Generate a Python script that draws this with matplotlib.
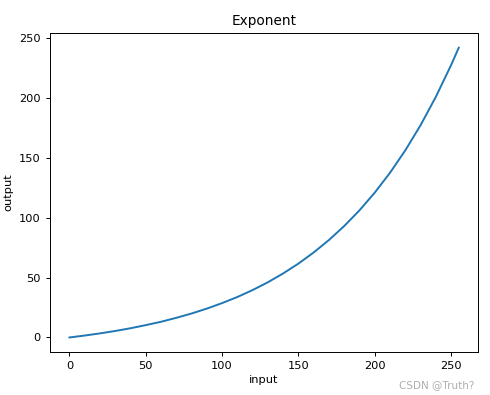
import matplotlib
matplotlib.use("Agg")
import matplotlib.pyplot as plt

# values
x_in = [0, 10, 20, 30, 40, 50, 60, 70, 80, 90, 100, 110, 120, 130, 140, 150, 160, 170,
        180, 190, 200, 210, 220, 230, 240, 250, 255]
y_out = [0, 1.6, 3.4, 5.4, 7.7, 10.3, 13.1, 16.4, 20.0, 24.1, 28.7, 33.8, 39.6, 46.1,
         53.5, 61.7, 71.0, 81.4, 93.1, 106.2, 121.0, 137.6, 156.3, 177.3, 201.0, 227.5,
         242.0]

fig = plt.figure(figsize=(4.9, 3.95), dpi=100)
ax = fig.add_axes([0.102, 0.109, 0.874, 0.807])
ax.plot(x_in, y_out, color="#1f77b4", linewidth=1.4)
ax.set_title("Exponent", fontsize=9.8)
ax.set_xlabel("input", fontsize=8.2, labelpad=3)
ax.set_ylabel("output", fontsize=8.2)
ax.tick_params(labelsize=8.2, length=3, width=0.7)
for s in ax.spines.values():
    s.set_linewidth(0.7)

fig.text(0.968, 0.012, "CSDN @Truth?", color="#b0b0b0", fontsize=7.5, ha="right", va="bottom")
fig.savefig("out.png", dpi=100)
